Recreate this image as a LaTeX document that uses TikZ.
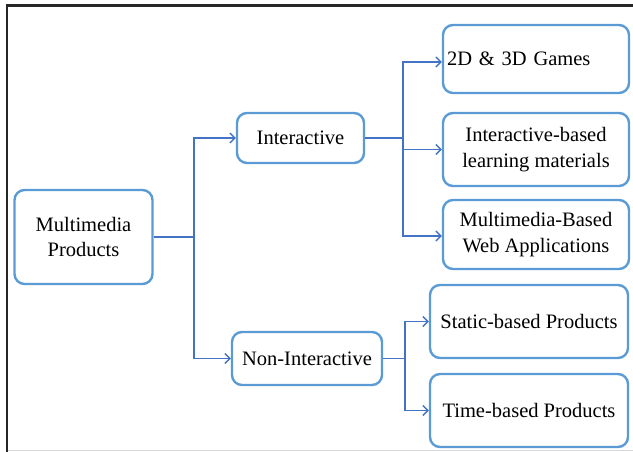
\documentclass[tikz,border=0pt]{standalone}
\usepackage{fontspec}
\setmainfont{Liberation Serif}
\usetikzlibrary{arrows.meta}
\definecolor{boxblue}{HTML}{5B9BD5}
\definecolor{linkblue}{HTML}{4472C4}
\begin{document}
\begin{tikzpicture}[x=1pt,y=-1pt,
  catbox/.style={draw=boxblue,line width=2.4pt,rounded corners=10pt,fill=white,
    align=center,inner sep=2pt,font=\fontsize{20.5}{25.5}\selectfont},
  link/.style={draw=linkblue,line width=1.4pt},
  linkarrow/.style={link,-{Straight Barb[length=5pt,width=10pt,line width=1.3pt]}}]
\useasboundingbox (0,0) rectangle (633,452);
% page frame
\draw[line width=2.2pt,black!85] (7,452) -- (7,5.5) -- (633,5.5);
\draw[line width=1pt,black!15] (8,450.5) -- (633,450.5);

% boxes
\node[catbox,minimum width=138pt,minimum height=94pt] (mp) at (83.5,237) {Multimedia\\Products};
\node[catbox,minimum width=127pt,minimum height=50pt] (inter) at (300.5,138) {Interactive};
\node[catbox,minimum width=150pt,minimum height=53pt] (non) at (307,358.5) {Non-Interactive};
\node[catbox,minimum width=186pt,minimum height=68pt,text width=178pt,align=left,inner xsep=4pt] (games) at (536,59) {2D \& 3D Games};
\node[catbox,minimum width=186pt,minimum height=73pt] (learn) at (536,149.5) {Interactive-based\\learning materials};
\node[catbox,minimum width=186pt,minimum height=69pt] (web) at (536,234.5) {Multimedia-Based\\Web Applications};
\node[catbox,minimum width=198pt,minimum height=73pt] (static) at (529,321.5) {Static-based Products};
\node[catbox,minimum width=198pt,minimum height=73pt] (time) at (529,410.5) {Time-based Products};

% junction points
\coordinate (j1) at (194,237);
\coordinate (j2) at (403,138);
\coordinate (j3) at (405,358.5);

% connectors
\draw[link] (mp.east) -- (j1);
\draw[linkarrow] (j1) |- (inter.west);
\draw[linkarrow] (j1) |- (non.west);

\draw[link] (inter.east) -- (j2);
\draw[linkarrow] (j2) |- ([yshift=-3pt]games.west);
\draw[linkarrow] (j2) |- (learn.west);
\draw[linkarrow] (j2) |- ([yshift=-1.5pt]web.west);

\draw[link] (non.east) -- (j3);
\draw[linkarrow] (j3) |- (static.west);
\draw[linkarrow] (j3) |- (time.west);
\end{tikzpicture}
\end{document}
